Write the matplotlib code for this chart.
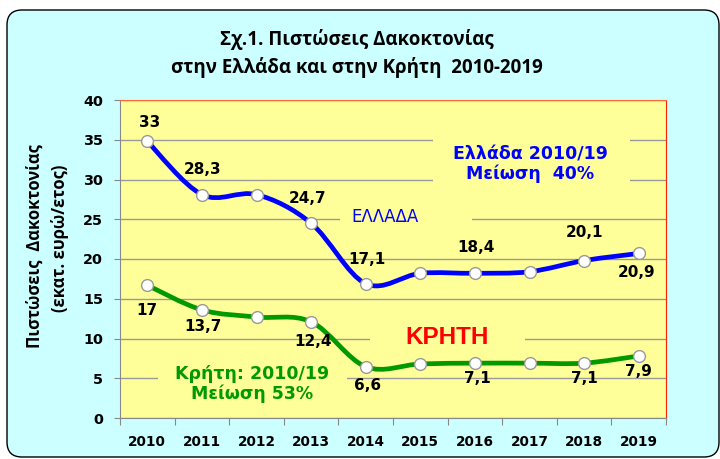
import matplotlib
matplotlib.use('Agg')
import matplotlib.pyplot as plt
from matplotlib.path import Path
from matplotlib.patches import PathPatch, FancyBboxPatch, Rectangle
import numpy as np

years = ['2010', '2011', '2012', '2013', '2014', '2015', '2016', '2017', '2018', '2019']
greece = [34.8, 28.1, 28.1, 24.5, 16.9, 18.2, 18.2, 18.4, 19.8, 20.7]
crete = [16.7, 13.6, 12.7, 12.1, 6.45, 6.8, 6.9, 6.9, 6.9, 7.8]
greece_labels = ['33', '28,3', '', '24,7', '17,1', '', '18,4', '', '20,1', '20,9']
crete_labels = ['17', '13,7', '', '12,4', '6,6', '', '7,1', '', '7,1', '7,9']
# label offsets in pixels (dx, dy up)
greece_off = [(2, 19), (1, 25), (0, 0), (-4, 25), (1, 24), (0, 0), (1, 26), (0, 0), (0, 28), (-2, -19)]
crete_off = [(0, -25), (1, -17), (0, 0), (2, -20), (2, -19), (0, 0), (2, -15), (0, 0), (0, -15), (0, -16)]

BLUE = '#0000ff'
GREEN = '#009900'
PLOT_BG = '#ffff99'
OUTER_BG = '#ccffff'

fig = plt.figure(figsize=(7.2, 4.59), dpi=100)
fig.patch.set_facecolor('white')

bg = FancyBboxPatch((0.07, 0.02), 7.12, 4.47, boxstyle='round,pad=0,rounding_size=0.15',
                    transform=fig.dpi_scale_trans, facecolor=OUTER_BG, edgecolor='black',
                    linewidth=1.0, zorder=-10)
fig.patches.append(bg)

ax = fig.add_axes([120 / 720, 41 / 459, 546 / 720, 318 / 459])
ax.set_facecolor(PLOT_BG)
x = np.arange(len(years))
ax.set_xlim(-0.5, len(years) - 0.5)
ax.set_ylim(0, 40)
ax.set_yticks(range(0, 41, 5))
ax.yaxis.grid(True, color='#999999', linewidth=1.0)
ax.set_axisbelow(True)

ax.set_xticks(np.arange(-0.5, len(years), 1.0))
ax.set_xticklabels([])
ax.set_xticks(x, minor=True)
ax.set_xticklabels(years, minor=True)
ax.tick_params(axis='x', which='major', length=5, color='#888888', direction='out')
ax.tick_params(axis='x', which='minor', length=0, pad=12)
ax.tick_params(axis='y', length=4, color='#888888', direction='out', pad=8)
for lab in ax.get_xticklabels(minor=True):
    lab.set_fontfamily('DejaVu Sans')
    lab.set_fontweight('bold')
    lab.set_fontsize(9.8)
for lab in ax.get_yticklabels():
    lab.set_fontfamily('DejaVu Sans')
    lab.set_fontweight('bold')
    lab.set_fontsize(10.4)

ax.spines['left'].set_color('#888888')
ax.spines['bottom'].set_color('#888888')
ax.spines['top'].set_color('#ff6633')
ax.spines['right'].set_color('#ff2200')


def px2x(px):
    return (px - 120) / 54.6 - 0.5


def py2y(py):
    return (418 - py) / 7.95


def mask(x0, x1, y0, y1):
    ax.add_patch(Rectangle((px2x(x0), py2y(y1)), px2x(x1) - px2x(x0), py2y(y0) - py2y(y1),
                           facecolor=PLOT_BG, edgecolor='none', zorder=1))


def smooth_path(xs, ys):
    pts = np.column_stack([xs, ys]).astype(float)
    n = len(pts)
    verts = [pts[0]]
    codes = [Path.MOVETO]
    for i in range(n - 1):
        p0 = pts[i - 1] if i > 0 else pts[i]
        p1 = pts[i]
        p2 = pts[i + 1]
        p3 = pts[i + 2] if i + 2 < n else pts[i + 1]
        c1 = p1 + (p2 - p0) / 6.0
        c2 = p2 - (p3 - p1) / 6.0
        verts += [c1, c2, p2]
        codes += [Path.CURVE4] * 3
    return Path(verts, codes)


for vals, col in [(greece, BLUE), (crete, GREEN)]:
    ax.add_patch(PathPatch(smooth_path(x, vals), facecolor='none', edgecolor=col,
                           linewidth=3.4, zorder=3, capstyle='round', joinstyle='round'))
    ax.plot(x, vals, linestyle='none', marker='o', markersize=8.5, markerfacecolor='white',
            markeredgecolor='#999999', markeredgewidth=1.0, zorder=4)

for vals, labs, offs in [(greece, greece_labels, greece_off), (crete, crete_labels, crete_off)]:
    for xi, v, lab, (dx, dy) in zip(x, vals, labs, offs):
        if not lab:
            continue
        ax.annotate(lab, (xi, v), xytext=(dx * 0.72, dy * 0.72), textcoords='offset points',
                    ha='center', va='center', fontsize=11, fontweight='bold',
                    fontfamily='DejaVu Sans', color='black', zorder=5)

# text boxes (masking gridlines behind them)
mask(340, 472, 209, 229)
ax.text(px2x(385), py2y(217), 'ΕΛΛΑΔΑ', color=BLUE, fontsize=12,
        fontfamily='DejaVu Sans', ha='center', va='center', zorder=2)
mask(433, 630, 128, 196)
ax.text(px2x(530), py2y(164), 'Ελλάδα 2010/19\nΜείωση  40%', color=BLUE,
        fontsize=12.5, fontweight='bold', fontfamily='DejaVu Sans', ha='center', va='center',
        linespacing=1.05, zorder=2)
mask(370, 525, 328, 348)
ax.text(px2x(447), py2y(337), 'ΚΡΗΤΗ', color='#ff0000', fontsize=17.5,
        fontweight='bold', fontfamily='Liberation Sans', ha='center', va='center', zorder=2)
mask(158, 347, 368, 388)
ax.text(px2x(252), py2y(384), 'Κρήτη: 2010/19\nΜείωση 53%', color=GREEN,
        fontsize=12.5, fontweight='bold', fontfamily='DejaVu Sans', ha='center', va='center',
        linespacing=1.05, zorder=2)

fig.text(357 / 720, 1 - 40 / 459, 'Σχ.1. Πιστώσεις Δακοκτονίας', ha='center', va='center',
         fontsize=13.5, fontfamily='Open Sans', fontweight='bold')
fig.text(357 / 720, 1 - 68 / 459, 'στην Ελλάδα και στην Κρήτη  2010-2019', ha='center', va='center',
         fontsize=13.5, fontfamily='Open Sans', fontweight='bold')

fig.text(35 / 720, 1 - 246 / 459, 'Πιστώσεις  Δακοκτονίας', rotation=90, ha='center', va='center',
         fontsize=12, fontfamily='Open Sans', fontweight='bold')
fig.text(60 / 720, 1 - 238 / 459, '(εκατ. ευρώ/ετος)', rotation=90, ha='center', va='center',
         fontsize=12, fontfamily='Open Sans', fontweight='bold')

fig.savefig('out.png', dpi=100, facecolor=fig.get_facecolor())
